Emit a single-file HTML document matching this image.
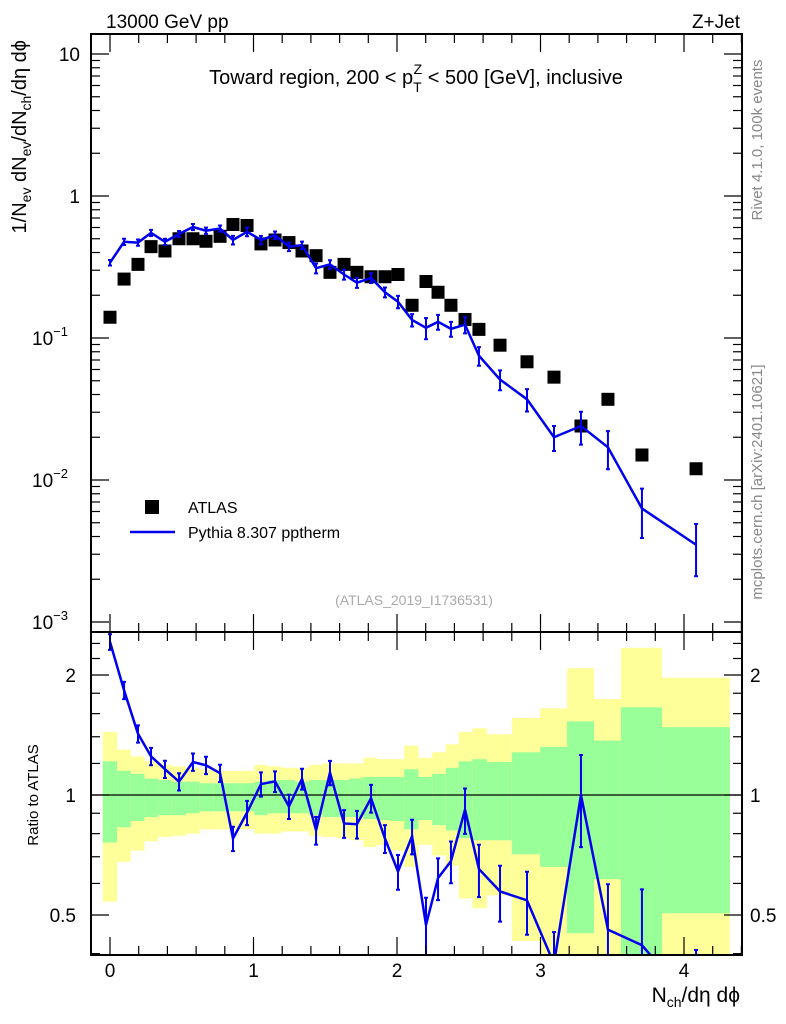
<!DOCTYPE html>
<html><head><meta charset="utf-8"><style>
body{margin:0;background:#fff;overflow:hidden;}
svg{display:block;}
svg text{font-family:"Liberation Sans",sans-serif;}
</style></head><body>
<svg id="chart" width="786" height="1024" xmlns="http://www.w3.org/2000/svg">
<g id="bands"></g>
<g id="marks"></g>
<g id="axes"></g>
<text x="106" y="28" font-size="19">13000 GeV pp</text>
<text x="740" y="28" font-size="19" text-anchor="end">Z+Jet</text>
<text x="416" y="84" font-size="20" text-anchor="middle">Toward region, 200 &lt; p<tspan font-size="14" dy="8">T</tspan><tspan font-size="14" dx="-8" dy="-18">Z</tspan><tspan dy="10"> &lt; 500 [GeV], inclusive</tspan></text>
<text transform="translate(26,40) rotate(-90)" font-size="20" text-anchor="end">1/N<tspan font-size="14" dy="5">ev</tspan><tspan dy="-5"> dN</tspan><tspan font-size="14" dy="5">ev</tspan><tspan dy="-5">/dN</tspan><tspan font-size="14" dy="5">ch</tspan><tspan dy="-5">/dη dϕ</tspan></text>
<text transform="translate(38,795) rotate(-90)" font-size="15" text-anchor="middle">Ratio to ATLAS</text>
<text x="740" y="1002" font-size="21" text-anchor="end">N<tspan font-size="14" dy="5">ch</tspan><tspan dy="-5">/dη dϕ</tspan></text>
<text transform="translate(762,140) rotate(-90)" font-size="15" fill="#888" text-anchor="middle">Rivet 4.1.0,  100k events</text>
<text transform="translate(762,482) rotate(-90)" font-size="15" fill="#888" text-anchor="middle">mcplots.cern.ch [arXiv:2401.10621]</text>
<text x="414" y="605" font-size="14" fill="#aaa" text-anchor="middle">(ATLAS_2019_I1736531)</text>
<rect x="145" y="500" width="14" height="14" fill="#000"/>
<text x="188" y="513" font-size="16">ATLAS</text>
<line x1="130" y1="532" x2="175" y2="532" stroke="#0000ee" stroke-width="2.5"/>
<text x="188" y="538" font-size="16">Pythia 8.307 pptherm</text>
</svg>
<script>
const xVals=[0,0.098,0.195,0.286,0.383,0.481,0.578,0.669,0.767,0.857,0.955,1.052,1.150,1.247,1.338,1.436,1.533,1.631,1.721,1.819,1.916,2.007,2.105,2.202,2.286,2.376,2.474,2.571,2.718,2.906,3.094,3.282,3.470,3.707,4.084];
const binLo=[-0.05,0.05,0.145,0.24,0.335,0.43,0.53,0.625,0.72,0.815,0.91,1.005,1.10,1.195,1.29,1.385,1.48,1.575,1.67,1.765,1.86,1.955,2.05,2.15,2.245,2.34,2.43,2.525,2.627,2.80,2.997,3.185,3.373,3.56,3.847];
const binHi=[0.05,0.145,0.24,0.335,0.43,0.53,0.625,0.72,0.815,0.91,1.005,1.10,1.195,1.29,1.385,1.48,1.575,1.67,1.765,1.86,1.955,2.05,2.15,2.245,2.34,2.43,2.525,2.627,2.80,2.997,3.185,3.373,3.56,3.847,4.32];
const atlas=[0.14,0.26,0.33,0.44,0.41,0.50,0.50,0.48,0.52,0.63,0.62,0.46,0.49,0.47,0.41,0.38,0.29,0.33,0.29,0.27,0.27,0.28,0.17,0.25,0.21,0.17,0.135,0.115,0.089,0.068,0.053,0.024,0.037,0.015,0.012];
const pythia=[0.339,0.476,0.47,0.55,0.476,0.54,0.605,0.57,0.59,0.49,0.56,0.49,0.53,0.44,0.45,0.31,0.33,0.28,0.245,0.265,0.21,0.18,0.134,0.118,0.13,0.116,0.124,0.075,0.051,0.037,0.020,0.024,0.017,0.0063,0.0035];
const pyRelErr=[0.045,0.05,0.05,0.05,0.05,0.05,0.05,0.05,0.05,0.07,0.07,0.07,0.06,0.07,0.06,0.08,0.07,0.08,0.08,0.08,0.08,0.1,0.1,0.17,0.12,0.12,0.13,0.15,0.16,0.18,0.2,0.26,0.3,0.38,0.4];
const yelUp=[1.44,1.30,1.25,1.215,1.19,1.18,1.17,1.16,1.15,1.15,1.15,1.19,1.18,1.17,1.17,1.19,1.20,1.20,1.20,1.24,1.23,1.23,1.33,1.24,1.28,1.34,1.44,1.47,1.42,1.56,1.65,2.08,1.74,2.34,1.97];
const grnUp=[1.215,1.15,1.13,1.10,1.09,1.08,1.08,1.07,1.07,1.07,1.07,1.08,1.09,1.09,1.08,1.09,1.09,1.09,1.10,1.11,1.11,1.11,1.16,1.11,1.13,1.17,1.215,1.23,1.21,1.28,1.32,1.53,1.37,1.66,1.48];
const grnDn=[0.76,0.83,0.86,0.88,0.89,0.89,0.90,0.91,0.91,0.91,0.91,0.89,0.90,0.90,0.90,0.89,0.88,0.88,0.88,0.87,0.865,0.86,0.82,0.865,0.84,0.815,0.78,0.77,0.77,0.71,0.66,0.45,0.615,0.3,0.505];
const yelDn=[0.54,0.68,0.725,0.765,0.785,0.79,0.80,0.82,0.82,0.82,0.82,0.80,0.80,0.81,0.81,0.79,0.785,0.78,0.77,0.74,0.75,0.725,0.66,0.75,0.705,0.665,0.55,0.52,0.56,0.43,0.3,0.3,0.3,0.3,0.3];
const topTicks=[10,1,0.1,0.01,0.001];
const topTickLabels=["10","1","10","10","10"];
const topTickExp=["","","−1","−2","−3"];
const ratioTicks=[2,1,0.5];
const xTicks=[0,1,2,3,4];

const NS="http://www.w3.org/2000/svg";
const L=91,R=742,T=34,M=632,B=955;
const X=v=>110+v*143.5;
const Y=v=>196-Math.log10(v)*142;
const RY=v=>795-Math.log2(v)*120;
const clampR=y=>Math.max(M,Math.min(B,y));
function mk(tag,attrs,parent){const e=document.createElementNS(NS,tag);for(const k in attrs)e.setAttribute(k,attrs[k]);parent.appendChild(e);return e;}
const bands=document.getElementById('bands'),marks=document.getElementById('marks'),axes=document.getElementById('axes');

for(let i=0;i<xVals.length;i++){
  const x1=X(binLo[i]),x2=Math.min(X(binHi[i]),R);
  const y=mk('rect',{x:x1,y:clampR(RY(yelUp[i])),width:x2-x1,height:clampR(RY(yelDn[i]))-clampR(RY(yelUp[i])),fill:'#ffff99'},bands);
  
  
  const g=mk('rect',{x:x1,y:clampR(RY(grnUp[i])),width:x2-x1,height:clampR(RY(grnDn[i]))-clampR(RY(grnUp[i])),fill:'#99ff99'},bands);
  
  
}
const one=mk('line',{x1:L,x2:R,y1:RY(1),y2:RY(1),stroke:'#000','stroke-width':1.2},bands);



for(let i=0;i<xVals.length;i++){
  const r=mk('rect',{x:X(xVals[i])-6.5,y:Y(atlas[i])-6.5,width:13,height:13,fill:'#000'},marks);
  
  
}
let pts=[];
for(let i=0;i<xVals.length;i++){
  const x=X(xVals[i]);pts.push(x+','+Y(pythia[i]));
  const y1=Y(pythia[i]*(1+pyRelErr[i])),y2=Y(pythia[i]*(1-pyRelErr[i]));
  const e=mk('path',{d:`M${x},${y1}V${y2}M${x-2},${y1}h4M${x-2},${y2}h4`,stroke:'#0000ee','stroke-width':2,fill:'none'},marks);
  
  
}
const pl=mk('polyline',{points:pts.join(' '),fill:'none',stroke:'#0000ee','stroke-width':2.5},marks);



const clip=mk('clipPath',{id:'rc'},marks);mk('rect',{x:L,y:M,width:R-L,height:B-M},clip);
const rg=mk('g',{'clip-path':'url(#rc)'},marks);


let rp=[];
for(let i=0;i<xVals.length;i++){
  const x=X(xVals[i]),r=pythia[i]/atlas[i];rp.push(x+','+RY(r));
  const y1=RY(r*(1+pyRelErr[i])),y2=RY(r*(1-pyRelErr[i]));
  const e=mk('path',{d:`M${x},${y1}V${y2}M${x-2},${y1}h4M${x-2},${y2}h4`,stroke:'#0000ee','stroke-width':2,fill:'none'},rg);
  
  
}
const rl=mk('polyline',{points:rp.join(' '),fill:'none',stroke:'#0000ee','stroke-width':2.5},rg);



for(const [y1,y2] of [[T,M],[M,B]]){
  const f=mk('rect',{x:L,y:y1,width:R-L,height:y2-y1,fill:'none',stroke:'#000','stroke-width':2},axes);
  
  
}
for(let d=-3;d<=1;d++){
  for(let m=1;m<=9;m++){
    const v=m*Math.pow(10,d);const y=Y(v);
    if(y<T||y>M)continue;
    const len=m===1?18:9;
    mk('line',{x1:L,x2:L+len,y1:y,y2:y,stroke:'#000','stroke-width':1.2},axes);
    mk('line',{x1:R,x2:R-len,y1:y,y2:y,stroke:'#000','stroke-width':1.2},axes);
  }
}
topTicks.forEach((v,i)=>{
  const t=mk('text',{x:80,y:Y(v)+7,'font-size':19,'text-anchor':'end'},axes);
  t.textContent=topTickLabels[i];
  if(topTickExp[i]){t.setAttribute('x',68);const s=mk('tspan',{'font-size':13,dy:-9},t);s.textContent=topTickExp[i];}
  
  
});
for(const v of [0.4,0.5,0.6,0.7,0.8,0.9,1,1.2,1.4,1.6,1.8,2,2.2,2.4]){
  const y=RY(v);const len=ratioTicks.includes(v)?18:9;
  mk('line',{x1:L,x2:L+len,y1:y,y2:y,stroke:'#000','stroke-width':1.2},axes);
  mk('line',{x1:R,x2:R-len,y1:y,y2:y,stroke:'#000','stroke-width':1.2},axes);
}
ratioTicks.forEach(v=>{
  const a=mk('text',{x:76,y:RY(v)+7,'font-size':19,'text-anchor':'end'},axes);a.textContent=String(v);
  
  
  const b=mk('text',{x:750,y:RY(v)+7,'font-size':19},axes);b.textContent=String(v);
  
  
});
for(let k=-1;k<=22;k++){
  const v=k*0.2;const x=X(v);if(x<L||x>R)continue;
  const major=Math.abs(v-Math.round(v))<1e-6;const len=major?18:9;
  mk('line',{x1:x,x2:x,y1:T,y2:T+len,stroke:'#000','stroke-width':1.2},axes);
  mk('line',{x1:x,x2:x,y1:M,y2:M-len,stroke:'#000','stroke-width':1.2},axes);
  mk('line',{x1:x,x2:x,y1:M,y2:M+len,stroke:'#000','stroke-width':1.2},axes);
  mk('line',{x1:x,x2:x,y1:B,y2:B-len,stroke:'#000','stroke-width':1.2},axes);
}
xTicks.forEach(v=>{
  const t=mk('text',{x:X(v),y:977,'font-size':19,'text-anchor':'middle'},axes);t.textContent=String(v);
  
  
});
</script>
</body></html>
